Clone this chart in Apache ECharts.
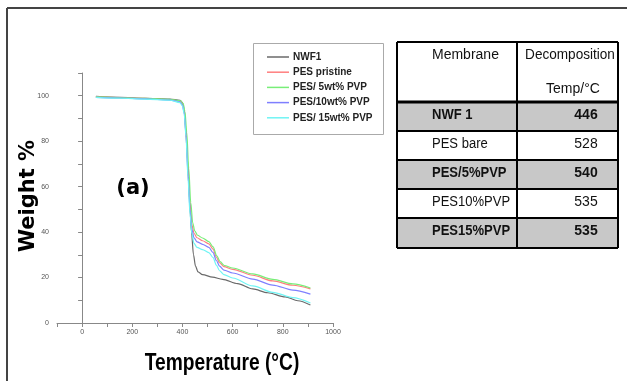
<!DOCTYPE html>
<html>
<head>
<meta charset="utf-8">
<title>TGA of membranes</title>
<script src="https://cdn.jsdelivr.net/npm/echarts@6/dist/echarts.min.js"></script>
<style>
  html, body { margin: 0; padding: 0; background: #ffffff; }
  #chart { width: 627px; height: 381px; }
</style>
</head>
<body>
<div id="chart"></div>
<script>
// Thermogravimetric curves: [temperature °C, weight %]
const nwf1 = [[55,99.7],[150,99.3],[250,98.9],[350,98.5],[390,98.0],[400,97.0],[407,94.0],[413,86],[420,72],[428,55],[436,40],[444,30],[452,25],[462,22.5],[480,21.3],[520,20.2],[560,19.2],[620,17.3],[680,15.0],[740,13.3],[810,11.5],[860,9.8],[910,7.9]];
const pesPristine = [[55,99.5],[150,99.2],[250,98.8],[350,98.3],[390,97.6],[400,96.5],[407,93],[414,84],[422,68],[430,52],[438,43],[446,39.5],[458,37.5],[480,36.2],[505,34.8],[522,32.5],[535,29],[548,26.5],[565,24.8],[600,23.6],[680,21],[760,18.5],[840,16.6],[910,15]];
const pes5 = [[55,99.5],[150,99.2],[250,98.8],[350,98.4],[393,97.8],[403,96.5],[410,93],[417,84],[425,68],[433,53],[441,44],[449,40.5],[460,38.6],[480,37.4],[505,35.8],[522,33.5],[537,29.5],[550,27],[567,25.3],[600,24.2],[680,21.6],[760,19.2],[840,17.2],[910,15.4]];
const pes10 = [[55,99.3],[150,99.0],[250,98.6],[350,98.1],[390,97.3],[400,96],[407,92.5],[414,83],[422,66],[430,50],[438,41],[446,37.5],[458,35.7],[480,34.6],[505,33.3],[522,31],[535,27.5],[548,25],[565,23.3],[600,22],[680,19.3],[760,16.7],[840,14.5],[910,12.7]];
const pes15 = [[55,99.3],[150,98.9],[250,98.5],[350,98.0],[390,97.0],[400,95.5],[407,92],[414,82],[422,64],[430,48],[438,39],[446,35],[458,33.3],[480,32.3],[505,31],[522,28.8],[535,25.5],[548,23],[565,21.3],[600,19.8],[680,16.3],[760,13.5],[840,11.2],[910,8.8]];

const seriesNames = ['NWF1', 'PES pristine', 'PES/ 5wt% PVP', 'PES/10wt% PVP', 'PES/ 15wt% PVP'];
const seriesData = [nwf1, pesPristine, pes5, pes10, pes15];
const seriesColors = ['#6a6a6a', '#ff7f7f', '#78ee78', '#7f7fff', '#70f4f4'];

// Decomposition temperature table
const tableHeader = ['Membrane', 'Decomposition', 'Temp/°C'];
const membranes = ['NWF 1', 'PES bare', 'PES/5%PVP', 'PES10%PVP', 'PES15%PVP'];
const decompTemps = [446, 528, 540, 535, 535];

const arial = "'Liberation Sans', Arial, sans-serif";

// Table layout
const tLeft = 397, tRight = 618, tDiv = 517;
const rowEdges = [42, 102, 131, 160, 189, 218, 248];

const graphics = [];
// outer frame
graphics.push({ type: 'line', shape: { x1: 7, y1: 8, x2: 627, y2: 8 }, style: { stroke: '#444', lineWidth: 2 } });
graphics.push({ type: 'line', shape: { x1: 7, y1: 8, x2: 7, y2: 381 }, style: { stroke: '#444', lineWidth: 2 } });
// legend frame
graphics.push({ type: 'rect', shape: { x: 253.5, y: 43.5, width: 130, height: 91 }, style: { fill: '#fff', stroke: '#aaa', lineWidth: 1 }, z: 0 });
// table rows
membranes.forEach((m, i) => {
  const y0 = rowEdges[i + 1], y1 = rowEdges[i + 2];
  const shaded = i % 2 === 0;
  if (shaded) {
    graphics.push({ type: 'rect', shape: { x: tLeft, y: y0, width: tRight - tLeft, height: y1 - y0 }, style: { fill: '#c8c8c8' } });
  }
  graphics.push({ type: 'text', x: 432, y: y0 + 13, scaleX: 0.93, style: { text: m, font: (shaded ? 'bold ' : '') + '14px ' + arial, fill: '#111', textAlign: 'left', textVerticalAlign: 'middle' } });
  graphics.push({ type: 'text', x: 586, y: y0 + 13, style: { text: String(decompTemps[i]), font: (shaded ? 'bold ' : '') + '14px ' + arial, fill: '#111', textAlign: 'center', textVerticalAlign: 'middle' } });
});
// header
graphics.push({ type: 'text', x: 432, y: 55, style: { text: tableHeader[0], font: '14px ' + arial, fill: '#111', textAlign: 'left', textVerticalAlign: 'middle' } });
graphics.push({ type: 'text', x: 570, y: 55, scaleX: 0.97, style: { text: tableHeader[1], font: '14px ' + arial, fill: '#111', textAlign: 'center', textVerticalAlign: 'middle' } });
graphics.push({ type: 'text', x: 573, y: 89, style: { text: tableHeader[2], font: '14px ' + arial, fill: '#111', textAlign: 'center', textVerticalAlign: 'middle' } });
// grid lines
rowEdges.forEach((y, i) => {
  graphics.push({ type: 'line', shape: { x1: tLeft, y1: y, x2: tRight, y2: y }, style: { stroke: '#000', lineWidth: i === 1 ? 3 : 2 } });
});
graphics.push({ type: 'line', shape: { x1: tLeft, y1: rowEdges[0], x2: tLeft, y2: rowEdges[rowEdges.length - 1] }, style: { stroke: '#000', lineWidth: 2 } });
graphics.push({ type: 'line', shape: { x1: tRight, y1: rowEdges[0], x2: tRight, y2: rowEdges[rowEdges.length - 1] }, style: { stroke: '#000', lineWidth: 2 } });
graphics.push({ type: 'line', shape: { x1: tDiv, y1: rowEdges[0], x2: tDiv, y2: rowEdges[rowEdges.length - 1] }, style: { stroke: '#000', lineWidth: 2 } });

// titles and panel tag
graphics.push({ type: 'text', x: 29, y: 196, rotation: Math.PI / 2, style: { text: 'Weight %', font: "bold 21px 'DejaVu Sans', sans-serif", fill: '#000', textAlign: 'center', textVerticalAlign: 'middle' } });
graphics.push({ type: 'text', x: 133, y: 189, style: { text: '(a)', font: "bold 21px 'DejaVu Sans', sans-serif", fill: '#000', textAlign: 'center', textVerticalAlign: 'middle' } });
graphics.push({ type: 'text', x: 222, y: 363, scaleX: 0.8, style: { text: 'Temperature (°C)', font: 'bold 24px ' + arial, fill: '#000', textAlign: 'center', textVerticalAlign: 'middle' } });

const chart = echarts.init(document.getElementById('chart'), null, { renderer: 'canvas' });
chart.setOption({
  animation: false,
  backgroundColor: '#fff',
  grid: { left: 57, right: 294, top: 73, bottom: 58, containLabel: false },
  legend: {
    orient: 'vertical',
    left: 267, top: 52,
    icon: 'rect',
    itemWidth: 22, itemHeight: 1.5, itemGap: 5.2,
    padding: 0,
    textStyle: { fontFamily: arial, fontWeight: 'bold', fontSize: 10, color: '#222', padding: [0, 0, 0, -1] },
    data: seriesNames
  },
  xAxis: {
    type: 'value', min: -100, max: 1000, interval: 100,
    axisLine: { lineStyle: { color: '#888', width: 1 } },
    axisTick: { length: 4, lineStyle: { color: '#888' } },
    splitLine: { show: false },
    axisLabel: { fontSize: 7, color: '#555', fontFamily: arial, margin: 6,
      formatter: v => (v >= 0 && v % 200 === 0) ? String(v) : '' }
  },
  yAxis: {
    type: 'value', min: 0, max: 110, interval: 10,
    axisLine: { show: true, lineStyle: { color: '#888', width: 1 } },
    axisTick: { show: true, length: 4, lineStyle: { color: '#888' } },
    splitLine: { show: false },
    axisLabel: { fontSize: 7, color: '#555', fontFamily: arial, margin: 8,
      formatter: v => (v % 20 === 0 && v <= 100) ? String(v) : '' }
  },
  series: seriesNames.map((name, i) => ({
    name, type: 'line', data: seriesData[i],
    symbol: 'none', smooth: 0.3, smoothMonotone: 'x',
    lineStyle: { color: seriesColors[i], width: 1.2 },
    itemStyle: { color: seriesColors[i] }
  })),
  graphic: graphics
});
</script>
</body>
</html>
